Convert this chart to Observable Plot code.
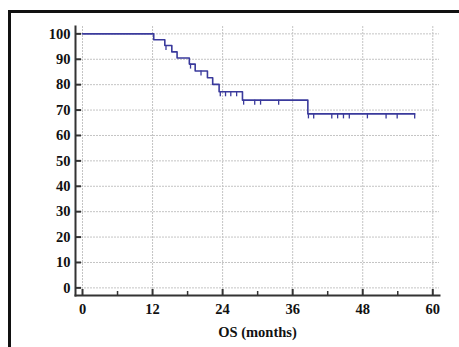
<!DOCTYPE html>
<html><head><meta charset="utf-8">
<script src="https://cdn.jsdelivr.net/npm/d3@7"></script>
<script src="https://cdn.jsdelivr.net/npm/@observablehq/plot@0.6"></script>
<style>
html,body{margin:0;padding:0;background:#fff;}
#wrap{position:relative;width:459px;height:347px;overflow:hidden;background:#fff;}
#border{position:absolute;left:8px;top:10px;width:470px;height:360px;border-top:3px solid #111;border-left:3px solid #111;}
#chart{position:absolute;left:0;top:0;}
</style></head><body>
<div id="wrap"><div id="border"></div><div id="chart"></div></div>
<script>
// Kaplan-Meier step curve (event times and survival %)
const eventTimes = [0, 12.2, 14.1, 15.3, 16.2, 18.3, 19.3, 21.4, 22.3, 23.4, 27.4, 38.6, 56.9];
const survival   = [100, 97.7, 95.4, 92.9, 90.5, 88.1, 85.4, 82.7, 80.1, 77.2, 73.9, 68.5, 68.5];
// Censored observations
const censorTimes  = [14.3, 18.5, 20.3, 23.6, 24.5, 25.4, 26.4, 27.6, 29.5, 30.5, 33.6, 38.7, 39.6, 42.7, 43.7, 44.7, 45.7, 48.8, 52.0, 53.9, 56.9];
const censorLevels = [95.4, 88.1, 85.4, 77.2, 77.2, 77.2, 77.2, 73.9, 73.9, 73.9, 73.9, 68.5, 68.5, 68.5, 68.5, 68.5, 68.5, 68.5, 68.5, 68.5, 68.5];
const xTicks = [0, 12, 24, 36, 48, 60];
const xMinorTicks = [6, 18, 30, 42, 54];
const yTicks = [0, 10, 20, 30, 40, 50, 60, 70, 80, 90, 100];
const xLabel = "OS (months)";

const curve = eventTimes.map((t, i) => ({t, s: survival[i]}));
const censored = censorTimes.map((t, i) => ({t, s: censorLevels[i]}));

const W = 459, H = 347, mL = 75, mR = 20, mT = 26, mB = 52;
const fw = W - mL - mR, fh = H - mT - mB;
const lineColor = "#3a3a9c";
const axisColor = "#333";
const font = "Liberation Serif";
const fs = 14.5;

const chart = Plot.plot({
  width: W, height: H,
  marginLeft: mL, marginRight: mR, marginTop: mT, marginBottom: mB,
  style: {fontFamily: font, fontWeight: "bold", fontSize: fs + "px", color: "#111", background: "transparent"},
  x: {domain: [-1.2, 61.15]},
  y: {domain: [-3.0, 102.9]},
  marks: [
    Plot.gridX(xTicks, {stroke: "#c4c4c4", strokeOpacity: 1, strokeDasharray: "2,1"}),
    Plot.gridY(yTicks, {stroke: "#c4c4c4", strokeOpacity: 1, strokeDasharray: "2,1"}),
    Plot.tickY(yTicks, {y: d => d, insetRight: fw - 6, stroke: axisColor, strokeWidth: 2}),
    Plot.tickX(xTicks, {x: d => d, insetTop: fh - 6, stroke: axisColor, strokeWidth: 2}),
    Plot.tickX(xMinorTicks, {x: d => d, insetTop: fh - 4, stroke: axisColor, strokeWidth: 1.5}),
    Plot.frame({anchor: "left", stroke: axisColor, strokeWidth: 2}),
    Plot.frame({anchor: "bottom", stroke: axisColor, strokeWidth: 2}),
    Plot.axisY({ticks: yTicks, tickSize: 0, tickPadding: 5, label: null, fontSize: fs, fontWeight: "bold", fill: "#111"}),
    Plot.axisX({ticks: xTicks, tickSize: 0, tickPadding: 8, label: xLabel, labelAnchor: "center", labelArrow: "none", labelOffset: 41, fontSize: fs, fontWeight: "bold", fill: "#111"}),
    Plot.line(curve, {x: "t", y: "s", curve: "step-after", stroke: lineColor, strokeWidth: 1.6}),
    Plot.ruleX(censored, {x: "t", y1: "s", y2: "s", insetBottom: -5, stroke: lineColor, strokeWidth: 1.3})
  ]
});
document.getElementById("chart").appendChild(chart);
</script>
</body></html>
